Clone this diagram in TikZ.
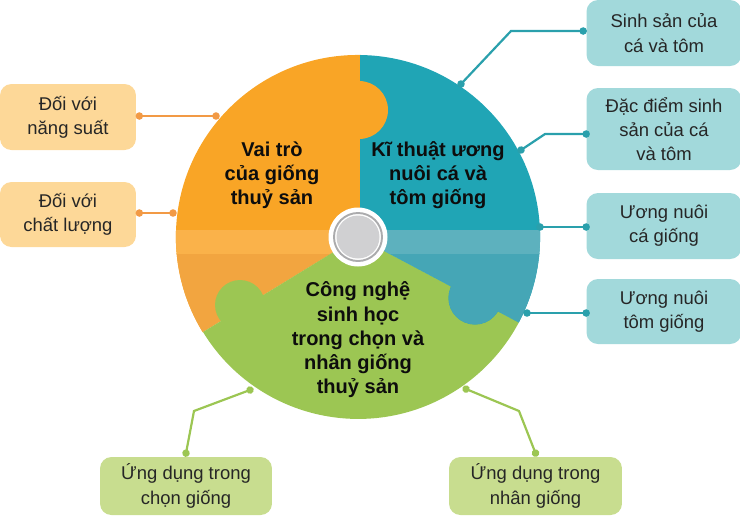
\documentclass[tikz,border=0pt]{standalone}
\usepackage{fontspec}
\setmainfont{Liberation Sans}
\usetikzlibrary{arrows.meta}

\definecolor{orangepiece}{HTML}{F9A526}
\definecolor{orangeband}{HTML}{FAB24A}
\definecolor{orangelow}{HTML}{F2A540}
\definecolor{tealpiece}{HTML}{20A5B5}
\definecolor{tealband}{HTML}{5DB1BE}
\definecolor{teallow}{HTML}{45A6B6}
\definecolor{greenpiece}{HTML}{9CC653}
\definecolor{orangebox}{HTML}{FDD898}
\definecolor{tealbox}{HTML}{A2D9DB}
\definecolor{greenbox}{HTML}{C8DD8F}
\definecolor{orangeline}{HTML}{F29A45}
\definecolor{tealline}{HTML}{2AA0AC}
\definecolor{greenline}{HTML}{9CC653}
\definecolor{hubgray}{HTML}{D0D0D2}
\definecolor{hubring}{HTML}{ABABAD}

\tikzset{
    box/.style={rounded corners=6.5pt, inner sep=0pt, align=center, text=black!85,
        font=\fontsize{10.5}{13.8}\selectfont},
    topic/.style={align=center, text=black!95, inner sep=0pt,
        font=\fontsize{11.4}{13.8}\selectfont\bfseries},
    link/.style={line width=1.25pt, {Circle[length=4.2pt]}-{Circle[length=4.2pt]},
        shorten <=-2.1pt, shorten >=-2.1pt}
}

\newcommand{\orangepath}{(362,237) -- (362,55) arc[start angle=271.3, end angle=148.5, radius=182] -- (hub) -- cycle}
\newcommand{\tealpath}{(360,237) -- (360,55) arc[start angle=270.6, end angle=388, radius=182] -- (hub) -- cycle (475,298) circle[radius=26.5]}

\begin{document}
\begin{tikzpicture}[x=0.02cm, y=-0.02cm]
    \useasboundingbox (0,0) rectangle (740,515);
    \coordinate (hub) at (358,237);

    \fill[orangepiece] \orangepath;
    \begin{scope}
        \clip (170,253) rectangle (545,430);
        \fill[orangelow] \orangepath;
    \end{scope}
    \begin{scope}
        \clip (170,230) rectangle (545,253);
        \fill[orangeband] \orangepath;
    \end{scope}
    \fill[greenpiece] (hub) -- (203,332) arc[start angle=148.5, end angle=28, radius=182] -- cycle;
    \fill[greenpiece] (240,305) circle[radius=25];
    \fill[tealpiece] \tealpath;
    \begin{scope}
        \clip (170,253) rectangle (545,430);
        \fill[teallow] \tealpath;
    \end{scope}
    \begin{scope}
        \clip (170,230) rectangle (545,253);
        \fill[tealband] \tealpath;
    \end{scope}
    \fill[orangepiece] (359,110) circle[radius=29];

    \fill[white] (hub) circle[radius=29.5];
    \draw[hubring, line width=1.1pt] (hub) circle[radius=24];
    \fill[hubgray] (hub) circle[radius=21.5];

    \node[topic] (role) at (272,175) {Vai trò\\của giống\\thuỷ sản};
    \node[topic] (tech) at (438,175) {Kĩ thuật ương\\nuôi cá và\\tôm giống};
    \node[topic] (bio) at (358,340) {Công nghệ\\sinh học\\trong chọn và\\nhân giống\\thuỷ sản};

    \node[box, fill=orangebox, minimum width=2.72cm, minimum height=1.32cm] (yield) at (68,117) {Đối với\\năng suất};
    \node[box, fill=orangebox, minimum width=2.72cm, minimum height=1.3cm] (quality) at (68,214.5) {Đối với\\chất lượng};
    \node[box, fill=tealbox, minimum width=3.1cm, minimum height=1.32cm] (breed) at (664,33) {Sinh sản của\\cá và tôm};
    \node[box, fill=tealbox, minimum width=3.1cm, minimum height=1.64cm] (trait) at (664,129) {Đặc điểm sinh\\sản của cá\\và tôm};
    \node[box, fill=tealbox, minimum width=3.1cm, minimum height=1.32cm] (fish) at (664,226) {Ương nuôi\\cá giống};
    \node[box, fill=tealbox, minimum width=3.1cm, minimum height=1.3cm] (shrimp) at (664,311.5) {Ương nuôi\\tôm giống};
    \node[box, fill=greenbox, minimum width=3.44cm, minimum height=1.16cm] (select) at (186,486) {Ứng dụng trong\\chọn giống};
    \node[box, fill=greenbox, minimum width=3.46cm, minimum height=1.16cm] (multiply) at (535.5,486) {Ứng dụng trong\\nhân giống};

    \coordinate (yieldend) at (216,116);
    \coordinate (qualityend) at (173,213);
    \coordinate (breedend) at (461,84);
    \coordinate (breedbend) at (511,31);
    \coordinate (traitend) at (521,150);
    \coordinate (traitbend) at (545,134);
    \coordinate (fishend) at (540,227);
    \coordinate (shrimpend) at (527,313);
    \coordinate (selectend) at (250,390);
    \coordinate (selectbend) at (194,411);
    \coordinate (multiplyend) at (466,389);
    \coordinate (multiplybend) at (519,411);

    \draw[link, orangeline] ([xshift=1.7pt]yield.east |- yieldend) -- (yieldend);
    \draw[link, orangeline] ([xshift=1.7pt]quality.east |- qualityend) -- (qualityend);
    \draw[link, tealline] ([xshift=-1.7pt]breed.west |- breedbend) -- (breedbend) -- (breedend);
    \draw[link, tealline] (trait.west |- traitbend) -- (traitbend) -- (traitend);
    \draw[link, tealline] (fish.west |- fishend) -- (fishend);
    \draw[link, tealline] (shrimp.west |- shrimpend) -- (shrimpend);
    \draw[link, greenline] ([yshift=2pt]select.north) -- (selectbend) -- (selectend);
    \draw[link, greenline] ([yshift=2pt]multiply.north) -- (multiplybend) -- (multiplyend);
\end{tikzpicture}
\end{document}
